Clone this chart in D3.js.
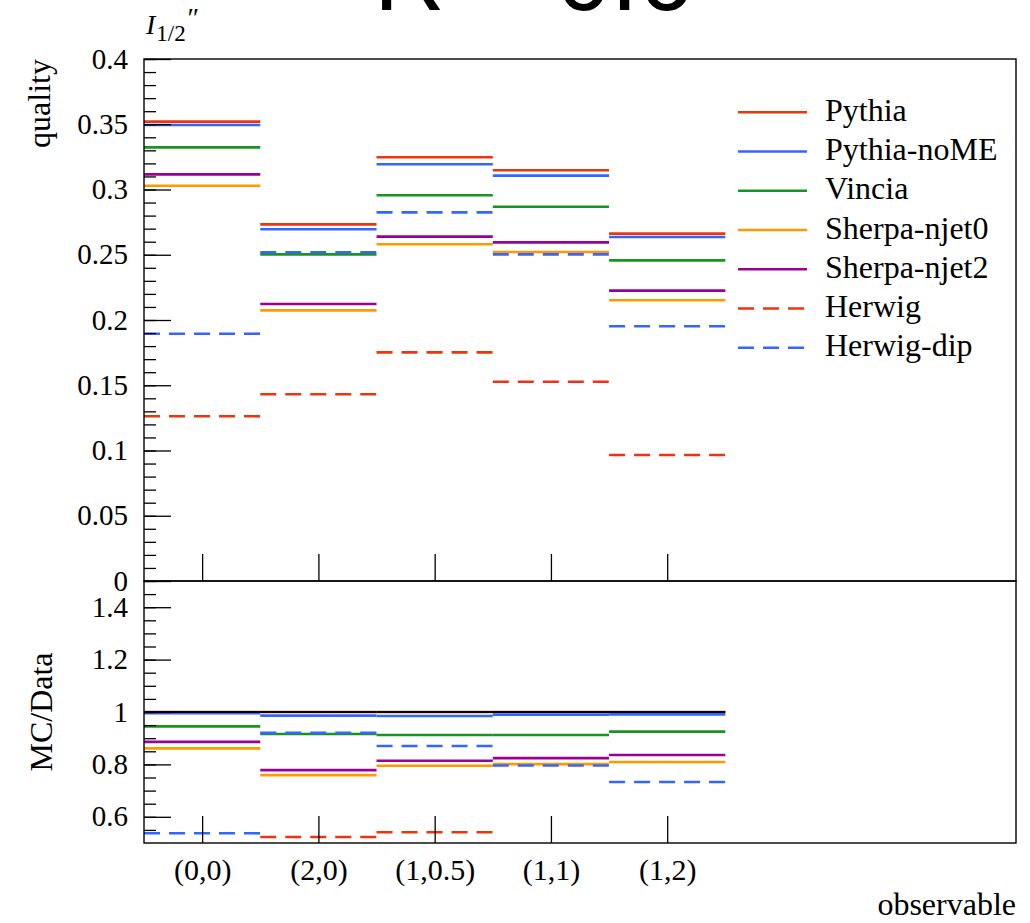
<!DOCTYPE html>
<html><head><meta charset="utf-8">
<script src="https://cdn.jsdelivr.net/npm/d3@7"></script>
<style>body{margin:0;background:#fff} svg{display:block}</style>
</head><body>
<svg id="chart" width="1030" height="923"></svg>
<script>
// ---------- data ----------
const categories = ["(0,0)", "(2,0)", "(1,0.5)", "(1,1)", "(1,2)"];
const seriesNames = ["Pythia", "Pythia-noME", "Vincia", "Sherpa-njet0", "Sherpa-njet2", "Herwig", "Herwig-dip"];

const pythia    = [0.352, 0.2733, 0.3247, 0.3147, 0.2662];
const pythiaNoME= [0.3494, 0.2695, 0.3193, 0.3106, 0.2636];
const vincia    = [0.3323, 0.2503, 0.2956, 0.2868, 0.2457];
const sherpaNjet0 = [0.3029, 0.2074, 0.2580, 0.2521, 0.2151];
const sherpaNjet2 = [0.3116, 0.2123, 0.2639, 0.2595, 0.2225];
const herwig    = [0.1262, 0.1431, 0.1752, 0.1527, 0.0966];
const herwigDip = [0.1895, 0.2519, 0.2825, 0.2503, 0.1952];

// ratio panel (MC/Data), null = outside the visible range
const pythiaR     = [1, 1, 1, 1, 1];
const pythiaNoMER = [0.995, 0.986, 0.985, 0.990, 0.991];
const vinciaR     = [0.945, 0.916, 0.912, 0.912, 0.925];
const sherpaNjet0R= [0.861, 0.759, 0.795, 0.801, 0.809];
const sherpaNjet2R= [0.886, 0.778, 0.814, 0.824, 0.836];
const herwigR     = [null, 0.523, 0.541, null, null];
const herwigDipR  = [0.537, 0.921, 0.870, 0.796, 0.733];
const referenceR  = [1, 1, 1, 1, 1];

const topTickValues = [0, 0.05, 0.1, 0.15, 0.2, 0.25, 0.3, 0.35, 0.4];
const topTickLabels = ["0", "0.05", "0.1", "0.15", "0.2", "0.25", "0.3", "0.35", "0.4"];
const botTickValues = [0.6, 0.8, 1.0, 1.2, 1.4];
const botTickLabels = ["0.6", "0.8", "1", "1.2", "1.4"];

const titleText = "R = 0.6";

// ---------- styling ----------
const colors = ["#ee3311", "#3366ff", "#17961d", "#ff9900", "#990099", "#ee3311", "#3366ff"];
const dashed = [false, false, false, false, false, true, true];
const topSeries = [pythia, pythiaNoME, vincia, sherpaNjet0, sherpaNjet2, herwig, herwigDip];
const botSeries = [pythiaR, pythiaNoMER, vinciaR, sherpaNjet0R, sherpaNjet2R, herwigR, herwigDipR];

const serif = "'Liberation Serif', 'DejaVu Serif', serif";
const svg = d3.select("#chart");

const L = 144, R = 1016, T = 59, MID = 581, B = 843;
const x = d3.scaleLinear().domain([0, 7.5]).range([L, R]);
const yTop = d3.scaleLinear().domain([0, 0.4]).range([MID, T]);
const yBot = d3.scaleLinear().domain([0.5, 1.5]).range([B, MID]);

// title (mostly cut off at top)
svg.append("text").attr("x", 374).attr("y", 10)
  .attr("font-family", "'Liberation Sans', Arial, sans-serif")
  .attr("font-size", 98).attr("fill", "#000").text(titleText);

// clip paths
const defs = svg.append("defs");
defs.append("clipPath").attr("id", "clipTop").append("rect")
  .attr("x", L).attr("y", T).attr("width", R - L).attr("height", MID - T);
defs.append("clipPath").attr("id", "clipBot").append("rect")
  .attr("x", L).attr("y", MID).attr("width", R - L).attr("height", B - MID);

function drawSeries(g, arrays, yScale) {
  arrays.forEach((arr, s) => {
    const segs = arr.map((v, i) => ({i, v})).filter(d => d.v !== null);
    g.selectAll(null).data(segs).enter().append("line")
      .attr("x1", d => x(d.i)).attr("x2", d => x(d.i + 1))
      .attr("y1", d => yScale(d.v)).attr("y2", d => yScale(d.v))
      .attr("stroke", colors[s]).attr("stroke-width", 2.6)
      .attr("stroke-dasharray", dashed[s] ? "16,9" : null);
  });
}

const gTop = svg.append("g").attr("clip-path", "url(#clipTop)");
drawSeries(gTop, topSeries, yTop);

const gBot = svg.append("g").attr("clip-path", "url(#clipBot)");
drawSeries(gBot, botSeries, yBot);
// data reference line at 1
gBot.selectAll(null).data(referenceR.map((v, i) => ({i, v}))).enter().append("line")
  .attr("x1", d => x(d.i)).attr("x2", d => x(d.i + 1))
  .attr("y1", d => yBot(d.v)).attr("y2", d => yBot(d.v))
  .attr("stroke", "#000").attr("stroke-width", 1.8);

// ---------- axes / ticks ----------
function styleAxis(g) {
  g.select(".domain").remove();
  g.selectAll(".tick line").attr("stroke", "#000").attr("stroke-width", 1.3);
}
// top panel y ticks (inward)
svg.append("g").attr("transform", `translate(${L},0)`)
  .call(d3.axisRight(yTop).tickValues(d3.range(0, 0.4001, 0.01)).tickSize(12).tickFormat(""))
  .call(styleAxis);
svg.append("g").attr("transform", `translate(${L},0)`)
  .call(d3.axisRight(yTop).tickValues(topTickValues).tickSize(27).tickFormat(""))
  .call(styleAxis);
svg.append("g").attr("transform", `translate(${L},0)`)
  .call(d3.axisLeft(yTop).tickValues(topTickValues).tickSize(0).tickPadding(16)
    .tickFormat((d, i) => topTickLabels[i]))
  .call(g => { g.select(".domain").remove();
    g.selectAll("text").attr("dy", 9).attr("font-family", serif).attr("font-size", 29).attr("fill", "#000"); });

// bottom panel y ticks
svg.append("g").attr("transform", `translate(${L},0)`)
  .call(d3.axisRight(yBot).tickValues(d3.range(0.55, 1.4501, 0.05)).tickSize(12).tickFormat(""))
  .call(styleAxis);
svg.append("g").attr("transform", `translate(${L},0)`)
  .call(d3.axisRight(yBot).tickValues(botTickValues).tickSize(27).tickFormat(""))
  .call(styleAxis);
svg.append("g").attr("transform", `translate(${L},0)`)
  .call(d3.axisLeft(yBot).tickValues(botTickValues).tickSize(0).tickPadding(16)
    .tickFormat((d, i) => botTickLabels[i]))
  .call(g => { g.select(".domain").remove();
    g.selectAll("text").attr("dy", 9).attr("font-family", serif).attr("font-size", 29).attr("fill", "#000"); });

// x ticks (bin centres), upward from bottom of each panel
const centers = categories.map((c, i) => i + 0.5);
svg.append("g").attr("transform", `translate(0,${MID})`)
  .call(d3.axisTop(x).tickValues(centers).tickSize(27).tickFormat(""))
  .call(styleAxis);
svg.append("g").attr("transform", `translate(0,${B})`)
  .call(d3.axisTop(x).tickValues(centers).tickSize(27).tickFormat(""))
  .call(styleAxis);
svg.append("g").attr("transform", `translate(0,${B})`)
  .call(d3.axisBottom(x).tickValues(centers).tickSize(0).tickFormat((d, i) => categories[i]))
  .call(g => { g.select(".domain").remove();
    g.selectAll("text").attr("y", 37).attr("dy", 0).attr("font-family", serif).attr("font-size", 30).attr("fill", "#000"); });

// frames
svg.append("rect").attr("x", L).attr("y", T).attr("width", R - L).attr("height", MID - T)
  .attr("fill", "none").attr("stroke", "#000").attr("stroke-width", 1.4);
svg.append("rect").attr("x", L).attr("y", MID).attr("width", R - L).attr("height", B - MID)
  .attr("fill", "none").attr("stroke", "#000").attr("stroke-width", 1.4);

// axis labels
svg.append("text").attr("transform", `translate(50,${T}) rotate(-90)`)
  .attr("text-anchor", "end").attr("font-family", serif).attr("font-size", 32).text("quality");
svg.append("text").attr("transform", `translate(52,${(MID + B) / 2}) rotate(-90)`)
  .attr("text-anchor", "middle").attr("font-family", serif).attr("font-size", 32).text("MC/Data");
svg.append("text").attr("x", R).attr("y", 915).attr("text-anchor", "end")
  .attr("font-family", serif).attr("font-size", 32).text("observable");

const yl = svg.append("text").attr("x", 146).attr("y", 34).attr("font-family", serif).attr("font-size", 28);
yl.append("tspan").attr("font-style", "italic").text("I");
yl.append("tspan").attr("font-size", 23).attr("dy", 7).attr("dx", 1).text("1/2");
yl.append("tspan").attr("font-size", 28).attr("dy", -14).attr("font-style", "italic").text("\u2033");

// legend
const lg = svg.append("g");
seriesNames.forEach((name, i) => {
  const yy = 112.3 + i * 39.25;
  lg.append("line").attr("x1", 738).attr("x2", 807).attr("y1", yy).attr("y2", yy)
    .attr("stroke", colors[i]).attr("stroke-width", 2.4)
    .attr("stroke-dasharray", dashed[i] ? "16,9" : null);
  lg.append("text").attr("x", 825).attr("y", yy + 8.5)
    .attr("font-family", serif).attr("font-size", 32).text(name);
});
</script>
</body></html>
